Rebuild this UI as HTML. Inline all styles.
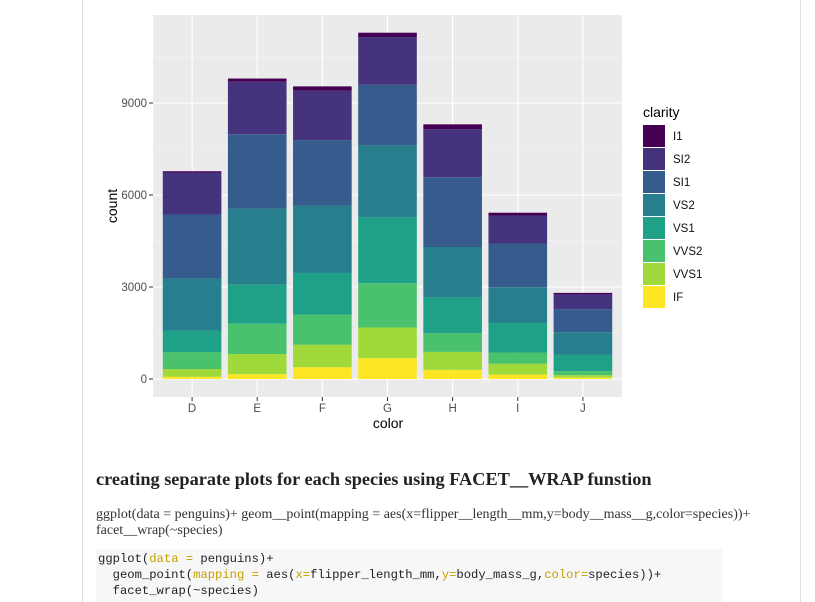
<!DOCTYPE html>
<html><head><meta charset="utf-8"><style>
body{margin:0;width:815px;height:602px;background:#fff;overflow:hidden;position:relative;font-family:"Liberation Sans",sans-serif}
.vl{position:absolute;top:0;height:602px;width:1px;background:#ddd}
h4{position:absolute;left:96px;top:469px;margin:0;font:bold 18.3px "Liberation Serif",serif;color:#222;white-space:nowrap}
.p{position:absolute;left:96px;top:507px;font:14px "Liberation Serif",serif;color:#333;line-height:16px;white-space:nowrap}
pre{position:absolute;left:96px;top:549px;width:626px;height:53px;margin:0;background:#f7f7f7;font:12.2px "Liberation Mono",monospace;line-height:16px;padding:2px 0 0 2px;box-sizing:border-box;color:#222}
.a{color:#c5a100}
</style></head><body>
<div class="vl" style="left:82px"></div>
<div class="vl" style="left:800px"></div>
<svg id="chart" width="815" height="450" style="position:absolute;left:0;top:0"></svg>
<h4>creating separate plots for each species using FACET__WRAP funstion</h4>
<div class="p">ggplot(data = penguins)+ geom__point(mapping = aes(x=flipper__length__mm,y=body__mass__g,color=species))+<br>facet__wrap(~species)</div>
<pre>ggplot(<span class="a">data =</span> penguins)+
  geom_point(<span class="a">mapping =</span> aes(<span class="a">x=</span>flipper_length_mm,<span class="a">y=</span>body_mass_g,<span class="a">color=</span>species))+
  facet_wrap(~species)</pre>
<script>
const categories=["D","E","F","G","H","I","J"];
const clarities=["I1","SI2","SI1","VS2","VS1","VVS2","VVS1","IF"];
const I1=[42,102,143,150,162,92,50];
const SI2=[1370,1713,1609,1548,1563,912,479];
const SI1=[2083,2426,2131,1976,2275,1424,750];
const VS2=[1697,2470,2201,2347,1643,1169,731];
const VS1=[705,1281,1364,2148,1169,962,542];
const VVS2=[553,991,975,1443,608,365,131];
const VVS1=[252,656,734,999,585,355,74];
const IF=[73,158,385,681,299,143,51];
const yTicks=[0,3000,6000,9000];
const colors=["#440154","#46337E","#365C8D","#277F8E","#1FA187","#4AC16D","#9FDA3A","#FDE725"];
const series=[I1,SI2,SI1,VS2,VS1,VVS2,VVS1,IF];
const NS="http://www.w3.org/2000/svg",svg=document.getElementById("chart");
function mk(t,a,p){const e=document.createElementNS(NS,t);for(const k in a)e.setAttribute(k,a[k]);(p||svg).appendChild(e);return e;}
const L=153,R=622,T=15,B=397;
const y=v=>379-v*(276/9000);
const band=(R-L)/(categories.length+0.2);
const x=i=>L+band*(0.6+i);
const bw=band*0.9;
let e=mk("rect",{x:L,y:T,width:R-L,height:B-T,fill:"#EBEBEB"});

[1500,4500,7500,10500].forEach(v=>mk("line",{x1:L,x2:R,y1:y(v),y2:y(v),stroke:"#f5f5f5","stroke-width":0.6}));
yTicks.forEach(v=>{mk("line",{x1:L,x2:R,y1:y(v),y2:y(v),stroke:"#fff","stroke-width":1.1});
 mk("line",{x1:149,x2:153,y1:y(v),y2:y(v),stroke:"#333"});
 e=mk("text",{x:147,y:y(v)+4,"text-anchor":"end","font-size":11.5,fill:"#4d4d4d"});e.textContent=v;
 });
categories.forEach((c,i)=>{mk("line",{x1:x(i),x2:x(i),y1:T,y2:B,stroke:"#fff","stroke-width":1.1});
 mk("line",{x1:x(i),x2:x(i),y1:B,y2:B+4,stroke:"#333"});
 e=mk("text",{x:x(i),y:412,"text-anchor":"middle","font-size":11.5,fill:"#4d4d4d"});e.textContent=c;
 
 let cum=0;
 for(let s=series.length-1;s>=0;s--){const v=series[s][i];
  const r=mk("rect",{x:x(i)-bw/2,y:y(cum+v),width:bw,height:y(cum)-y(cum+v),fill:colors[s]});
  
  cum+=v;}
});
e=mk("text",{x:388,y:428,"text-anchor":"middle","font-size":14,fill:"#000"});e.textContent="color";

e=mk("text",{x:117,y:206,"text-anchor":"middle","font-size":14,transform:"rotate(-90 117 206)"});e.textContent="count";

e=mk("text",{x:643,y:117,"font-size":14});e.textContent="clarity";

clarities.forEach((c,k)=>{const yy=125+k*23;
 const g=mk("g",{});
 mk("rect",{x:643,y:yy,width:22,height:22,fill:colors[k]},g);
 const t=mk("text",{x:673,y:yy+15,"font-size":11.5,fill:"#111"},g);t.textContent=c;});
</script>
</body></html>
